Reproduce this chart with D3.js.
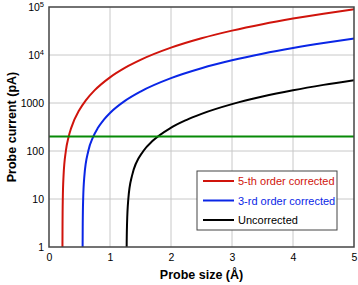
<!DOCTYPE html>
<html>
<head>
<meta charset="utf-8">
<script src="https://cdn.jsdelivr.net/npm/d3@7"></script>
<style>
	body{margin:0;background:#fff;}
	svg{display:block;font-family:"Liberation Sans",Arial,sans-serif;}
</style>
</head>
<body>
<svg id="chart" width="358" height="285"></svg>
<script>
// values
var xTicks = [0, 1, 2, 3, 4, 5];
var yTicks = [1, 10, 100, 1000, 10000, 100000];
var yTickLabels = ["1", "10", "100", "1000", "10|4", "10|5"];
var seriesNames = ["5-th order corrected", "3-rd order corrected", "Uncorrected"];

var red_x = [0.2206, 0.2219, 0.2262, 0.2382, 0.276, 0.32, 0.363, 0.5, 0.6, 0.75, 1, 1.25, 1.5, 2, 2.5, 3, 3.5, 4, 4.5, 5];
var red_y = [1, 3, 10, 30, 100, 194, 300, 726, 1122, 1851, 3426, 5451, 7926, 14226, 22326, 32226, 43926, 57426, 72726, 89826];

var blue_x = [0.551, 0.5531, 0.5601, 0.5798, 0.6441, 0.72, 0.7997, 0.9, 1, 1.25, 1.5, 2, 2.5, 3, 3.5, 4, 4.5, 5];
var blue_y = [1, 3, 10, 30, 100, 192, 300, 452, 621, 1121, 1733, 3291, 5293, 7741, 10633, 13971, 17753, 21981];

var black_x = [1.2731, 1.2792, 1.3004, 1.3592, 1.5473, 1.7, 1.9891, 2.25, 2.5, 3, 3.5, 4, 4.5, 5];
var black_y = [1, 3, 10, 30, 100, 163, 300, 441, 594, 946, 1362, 1842, 2386, 2994];

var thresholdValue = 200;

var seriesList = [
	{name: seriesNames[0], xs: red_x, ys: red_y, color: "#d0140c"},
	{name: seriesNames[1], xs: blue_x, ys: blue_y, color: "#0a26e6"},
	{name: seriesNames[2], xs: black_x, ys: black_y, color: "#000000"}
];

var svg = d3.select("#chart"),
	margin = {left: 49, right: 4, top: 7, bottom: 38},
	width = 358 - margin.left - margin.right,
	height = 285 - margin.top - margin.bottom;

var x = d3.scaleLinear().domain([0, 5]).range([0, width]);
var y = d3.scaleLog().domain([1, 100000]).range([height, 0]);

var g = svg.append("g").attr("transform", "translate(" + margin.left + "," + margin.top + ")");

// grid
g.append("g").selectAll("line").data(xTicks.slice(1, -1)).enter().append("line")
	.attr("x1", function(d){ return x(d); }).attr("x2", function(d){ return x(d); })
	.attr("y1", 0).attr("y2", height)
	.attr("stroke", "#c8c8c8").attr("stroke-width", 1);
g.append("g").selectAll("line").data(yTicks.slice(1, -1)).enter().append("line")
	.attr("y1", function(d){ return y(d); }).attr("y2", function(d){ return y(d); })
	.attr("x1", 0).attr("x2", width)
	.attr("stroke", "#c8c8c8").attr("stroke-width", 1);

// axes (labels only)
var xAxis = g.append("g").attr("transform", "translate(0," + height + ")")
	.call(d3.axisBottom(x).tickValues(xTicks).tickSize(0).tickPadding(7).tickFormat(d3.format("d")));
var yAxis = g.append("g")
	.call(d3.axisLeft(y).tickValues(yTicks).tickSize(0).tickPadding(5).tickFormat(function(){ return ""; }));
xAxis.select(".domain").remove();
yAxis.select(".domain").remove();
xAxis.selectAll("text").attr("font-size", "10.5px").attr("fill", "#000").attr("font-family", "Liberation Sans, Arial, sans-serif");
yAxis.selectAll(".tick text").each(function(d, i){
	var parts = yTickLabels[i].split("|"),
		t = d3.select(this).attr("font-size", "10.5px").attr("fill", "#000")
			.attr("font-family", "Liberation Sans, Arial, sans-serif");
	t.text(null);
	t.append("tspan").text(parts[0]);
	if(parts.length > 1){
		t.append("tspan").attr("font-size", "7.5px").attr("dy", "-0.55em").text(parts[1]);
	}
});

// curves
var line = d3.line()
	.x(function(d){ return x(d[0]); })
	.y(function(d){ return y(d[1]); })
	.curve(d3.curveMonotoneX);

g.append("clipPath").attr("id", "clip").append("rect")
	.attr("x", 0).attr("y", 0).attr("width", width).attr("height", height);

var curves = g.append("g").attr("clip-path", "url(#clip)");
seriesList.forEach(function(s){
	var pts = s.xs.map(function(v, i){ return [v, s.ys[i]]; });
	pts.unshift([s.xs[0], 0.8]);
	curves.append("path").datum(pts)
		.attr("d", line)
		.attr("fill", "none")
		.attr("stroke", s.color)
		.attr("stroke-width", 2);
});

g.append("line")
	.attr("x1", x(0)).attr("x2", x(5))
	.attr("y1", y(thresholdValue)).attr("y2", y(thresholdValue))
	.attr("stroke", "#078a07").attr("stroke-width", 2);

// frame
g.append("rect").attr("x", 0).attr("y", 0).attr("width", width).attr("height", height)
	.attr("fill", "none").attr("stroke", "#444").attr("stroke-width", 1.5);

// legend
var legend = g.append("g").attr("transform", "translate(148,164)");
legend.append("rect").attr("x", 0).attr("y", 0).attr("width", 140).attr("height", 59)
	.attr("fill", "#fff").attr("stroke", "#444").attr("stroke-width", 1);
seriesList.forEach(function(s, i){
	var ly = 10 + i * 19.5;
	legend.append("line").attr("x1", 6).attr("x2", 37).attr("y1", ly).attr("y2", ly)
		.attr("stroke", s.color).attr("stroke-width", 2);
	legend.append("text").attr("x", 41).attr("y", ly + 4)
		.attr("font-size", "11px").attr("fill", s.color).text(s.name);
});

// axis titles
svg.append("text").attr("x", margin.left + width / 2).attr("y", 279)
	.attr("text-anchor", "middle").attr("font-weight", "bold").attr("font-size", "12.5px")
	.text("Probe size (Å)");
svg.append("text")
	.attr("transform", "translate(16," + (margin.top + height / 2) + ") rotate(-90)")
	.attr("text-anchor", "middle").attr("font-weight", "bold").attr("font-size", "12.5px")
	.text("Probe current (pA)");
</script>
</body>
</html>
